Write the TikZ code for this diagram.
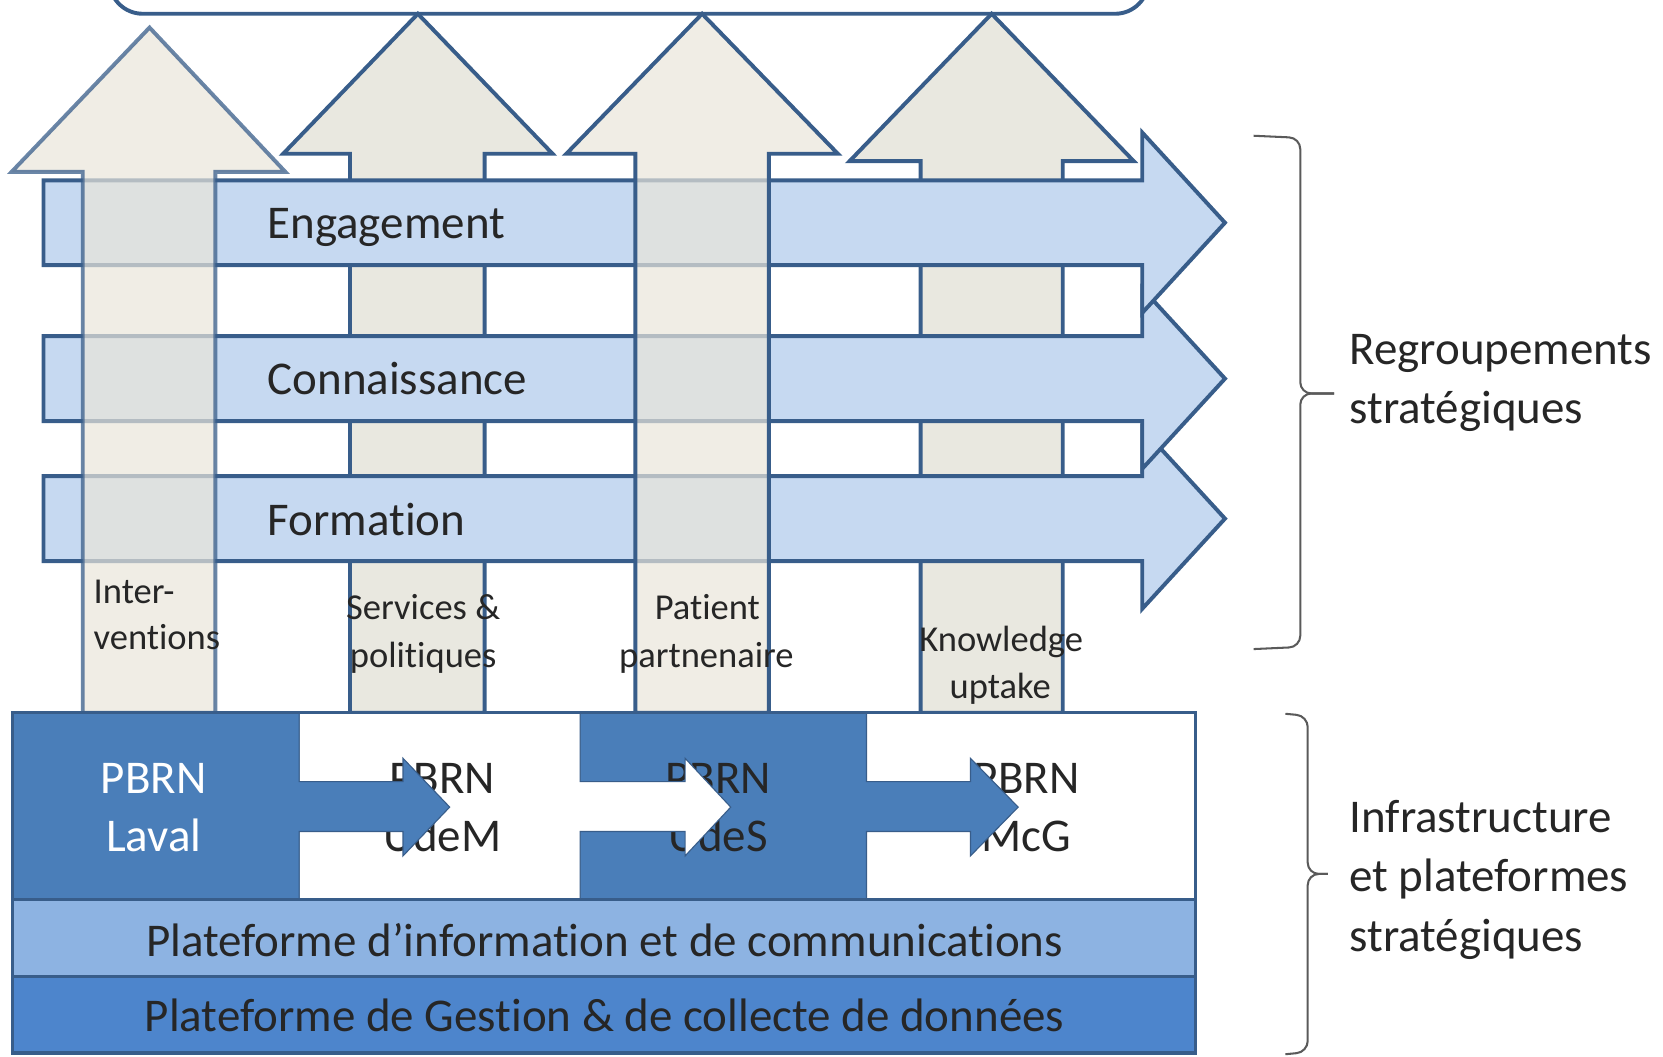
\documentclass[tikz,border=0pt]{standalone}
\usepackage{fontspec}
\setmainfont{Carlito}[Ligatures={NoCommon}]
\definecolor{ln}{RGB}{56,93,138}
\definecolor{hfill}{RGB}{198,217,241}
\definecolor{vfill}{RGB}{233,232,224}
\definecolor{vfillT}{RGB}{233,229,218}
\definecolor{pdark}{RGB}{74,126,185}
\definecolor{prow2}{RGB}{141,179,226}
\definecolor{prow3}{RGB}{77,133,204}
\definecolor{brc}{RGB}{90,90,90}
\tikzset{
  outl/.style={draw=ln, line width=2.1pt, line join=miter},
  harrow/.style={outl, fill=hfill},
  varrowback/.style={outl, fill=vfill},
  varrowfront/.style={outl, fill=vfillT, fill opacity=0.7},
  bigtxt/.style={font=\fontsize{25.2}{30}\selectfont, inner sep=0pt, text=black!85},
  smalltxt/.style={font=\fontsize{19.6}{24}\selectfont, inner sep=0pt, text=black!85},
  pblock/.style={fill=pdark, draw=ln, line width=0.6pt},
  bracestyle/.style={draw=brc, line width=1.1pt, rounded corners=6},
}
\begin{document}
\begin{tikzpicture}[x=0.02cm, y=-0.02cm]
\useasboundingbox (0,0) rectangle (1568,996);
\clip (0,0) rectangle (1568,996);

% top box
\draw[outl, fill=white, rounded corners=18] (103,-60) rectangle (1083,13);

% vertical arrows behind
\draw[varrowback] (330,672) -- (330,145) -- (267,145) -- (394,13) -- (521,145) -- (457,145) -- (457,672) -- cycle;
\draw[varrowback] (868,672) -- (868,152) -- (801,152) -- (935,13) -- (1069,152) -- (1002,152) -- (1002,672) -- cycle;

% horizontal arrows
\draw[harrow] (41,449) -- (1077,449) -- (1077,404) -- (1155,489) -- (1077,574) -- (1077,529) -- (41,529) -- cycle;
\draw[harrow] (41,317) -- (1077,317) -- (1077,272) -- (1155,357) -- (1077,442) -- (1077,397) -- (41,397) -- cycle;
\draw[harrow] (41,170) -- (1077,170) -- (1077,125) -- (1155,210) -- (1077,295) -- (1077,250) -- (41,250) -- cycle;

% vertical arrows in front (transparent)
\draw[varrowfront, draw opacity=0.75] (78,672) -- (78,162) -- (11,162) -- (141,26) -- (269,162) -- (203,162) -- (203,672) -- cycle;
\draw[varrowfront] (599,672) -- (599,145) -- (534,145) -- (662,13) -- (790,145) -- (725,145) -- (725,672) -- cycle;

% labels of horizontal arrows
\node[bigtxt, anchor=base west] (eng) at (252,225) {Engagement};
\node[bigtxt, anchor=base west] (con) at (252,372) {Connaissance};
\node[bigtxt, anchor=base west] (for) at (252,505) {Formation};

% labels of vertical arrows
\node[smalltxt, anchor=base west] (int1) at (88,569) {Inter-};
\node[smalltxt, anchor=base west] (int2) at (88,612) {ventions};
\node[smalltxt, anchor=base] (ser1) at (399,584) {Services \&};
\node[smalltxt, anchor=base] (ser2) at (399,629) {politiques};
\node[smalltxt, anchor=base] (pat1) at (667,584) {Patient};
\node[smalltxt, anchor=base] (pat2) at (666,629) {partnenaire};
\node[smalltxt, anchor=base] (kno1) at (944,614) {Knowledge};
\node[smalltxt, anchor=base] (kno2) at (943,659) {uptake};

% PBRN row (drawn from right to left so that each arrow covers the next text)
\fill[white] (817,672) rectangle (1127,848);
\node[bigtxt, anchor=base] (mcg1) at (968,748) {PBRN};
\node[bigtxt, anchor=base] (mcg2) at (968,803) {McG};

\draw[pblock] (547,672) -- (817,672) -- (817,737) -- (915,737) -- (915,715) -- (960,761) -- (915,807) -- (915,784) -- (817,784) -- (817,848) -- (547,848) -- cycle;
\node[bigtxt, anchor=base] (ude1) at (677,748) {PBRN};
\node[bigtxt, anchor=base] (ude2) at (677,803) {UdeS};

\draw[fill=white, draw=ln, line width=0.6pt] (282,672) -- (547,672) -- (547,737) -- (646,737) -- (646,715) -- (689,761) -- (646,807) -- (646,784) -- (547,784) -- (547,848) -- (282,848) -- cycle;
\node[bigtxt, anchor=base] (udm1) at (417,748) {PBRN};
\node[bigtxt, anchor=base] (udm2) at (417,803) {UdeM};

\draw[pblock] (12,672) -- (282,672) -- (282,737) -- (380,737) -- (380,715) -- (424,761) -- (380,807) -- (380,784) -- (282,784) -- (282,848) -- (12,848) -- cycle;
\node[bigtxt, anchor=base, text=white] (lav1) at (145,748) {PBRN};
\node[bigtxt, anchor=base, text=white] (lav2) at (145,803) {Laval};

\draw[outl, line width=1.8pt] (12,672) rectangle (1127,848);

% platform rows
\draw[outl, line width=1.8pt, fill=prow2] (12,848) rectangle (1127,921);
\draw[outl, line width=1.8pt, fill=prow3] (12,921) rectangle (1127,993);
\node[bigtxt, anchor=base] (plat1) at (570,902) {Plateforme d’information et de communications};
\node[bigtxt, anchor=base] (plat2) at (570,973) {Plateforme de Gestion \& de collecte de données};

% braces
\draw[bracestyle] (1182,128) -- (1226,130) -- (1226,371) -- (1258,371);
\draw[bracestyle] (1258,371) -- (1226,371) -- (1226,610) -- (1182,612);
\draw[bracestyle] (1212,673) -- (1233,675) -- (1233,824) -- (1252,824);
\draw[bracestyle] (1252,824) -- (1233,824) -- (1233,992) -- (1212,994);

\node[bigtxt, anchor=base west] (reg1) at (1272,344) {Regroupements};
\node[bigtxt, anchor=base west] (reg2) at (1272,399) {stratégiques};
\node[bigtxt, anchor=base west] (inf1) at (1272,785) {Infrastructure};
\node[bigtxt, anchor=base west] (inf2) at (1272,841) {et plateformes};
\node[bigtxt, anchor=base west] (inf3) at (1272,897) {stratégiques};
\end{tikzpicture}
\end{document}
